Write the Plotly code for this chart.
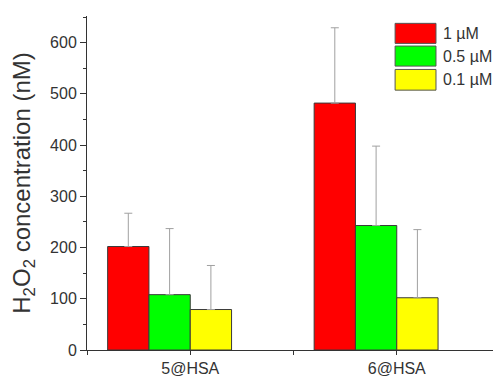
import plotly.graph_objects as go

categories = ["5@HSA", "6@HSA"]
series_names = ["1 µM", "0.5 µM", "0.1 µM"]
values_1uM = [202, 482]
values_05uM = [108, 243]
values_01uM = [79, 102]
err_1uM = [65, 147]
err_05uM = [129, 155]
err_01uM = [86, 133]
y_ticks = [0, 100, 200, 300, 400, 500, 600]

colors = ["#FF0000", "#00FF00", "#FFFF00"]
offsets = [-0.4, -0.2, 0.0]
vals = [values_1uM, values_05uM, values_01uM]
errs = [err_1uM, err_05uM, err_01uM]

FONT = "Liberation Sans, Arial, sans-serif"
xpos = list(range(len(categories)))

fig = go.Figure()
for name, v, e, c, off in zip(series_names, vals, errs, colors, offsets):
    fig.add_trace(go.Bar(
        x=xpos, y=v, name=name, width=0.2, offset=off,
        marker=dict(color=c, line=dict(color="#3a3a3a", width=1)),
        error_y=dict(type="data", symmetric=False, array=e, arrayminus=[0] * len(e),
                     color="#a0a0a0", thickness=1, width=4),
        showlegend=False,
    ))

# custom legend (large swatches like the original)
lx0, lx1 = 0.746, 0.845
rows = [(0.918, 0.978), (0.850, 0.910), (0.778, 0.840)]
for (y0, y1), c, name in zip(rows, colors, series_names):
    fig.add_shape(type="rect", xref="paper", yref="paper", x0=lx0, x1=lx1, y0=y0, y1=y1,
                  fillcolor=c, line=dict(color="#555555", width=1))
    fig.add_annotation(xref="paper", yref="paper", x=0.856, y=(y0 + y1) / 2, text=name,
                       showarrow=False, xanchor="left", yanchor="middle",
                       font=dict(family=FONT, size=16, color="#333333"))

# page body has an 8px default margin; compensate so the plot sits where the original is
fig.update_layout(
    width=493, height=368,
    margin=dict(l=79, r=1, t=8, b=26),
    paper_bgcolor="white", plot_bgcolor="white",
    barmode="overlay",
    font=dict(family=FONT, size=16, color="#333333"),
)
fig.update_xaxes(
    range=[-0.5, 1.5], tickmode="array", tickvals=xpos, ticktext=categories,
    showline=True, linecolor="#333333", linewidth=1,
    ticks="outside", ticklen=4, tickcolor="#333333",
    minor=dict(tickmode="array", tickvals=[-0.5, 0.5, 1.5], ticks="outside", ticklen=4, tickcolor="#333333"),
    showgrid=False, zeroline=False, automargin=False,
    tickfont=dict(family=FONT, size=16, color="#333333"),
)
fig.update_yaxes(
    range=[0, 652], tickmode="array", tickvals=y_ticks,
    showline=True, linecolor="#333333", linewidth=1,
    ticks="outside", ticklen=6, tickcolor="#333333",
    minor=dict(tickmode="array", tickvals=[50, 150, 250, 350, 450, 550, 650], ticks="outside", ticklen=3, tickcolor="#333333"),
    showgrid=False, zeroline=False, automargin=False,
    tickfont=dict(family=FONT, size=16, color="#333333"),
    title=dict(text="H<sub>2</sub>O<sub>2</sub> concentration (nM)", standoff=13,
               font=dict(family=FONT, size=24, color="#333333")),
)

fig.write_html("out.html")
